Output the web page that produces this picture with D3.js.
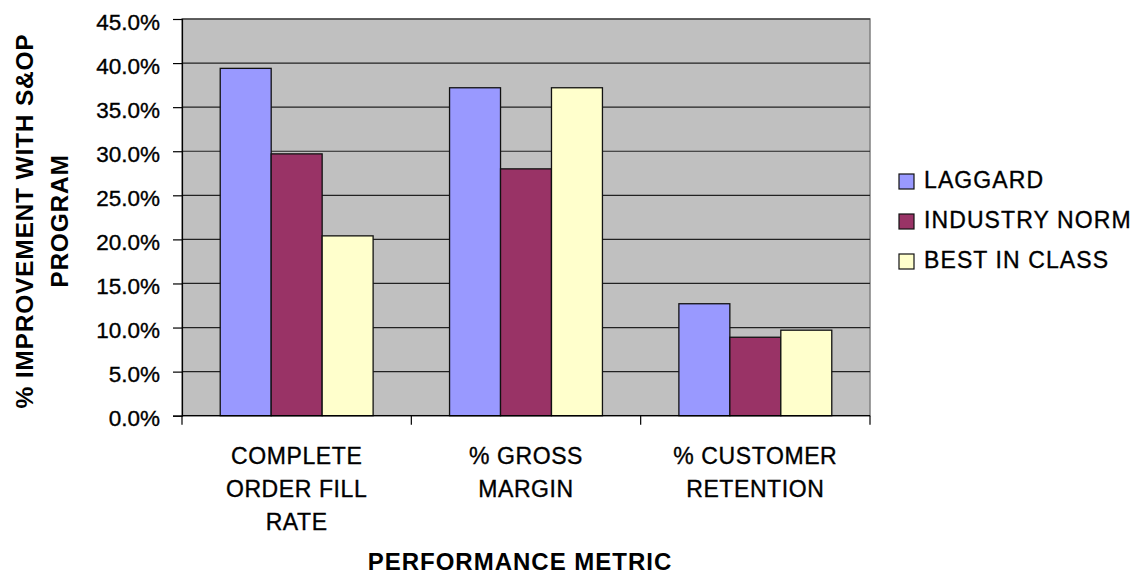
<!DOCTYPE html>
<html>
<head>
<meta charset="utf-8">
<script src="https://cdn.jsdelivr.net/npm/d3@7"></script>
<style>
  body { margin: 0; background: #fff; }
  text { font-family: "Liberation Sans", Arial, sans-serif; fill: #000; }
  .heavy { stroke: #000; stroke-width: 0.35px; }
</style>
</head>
<body>
<div id="graph"></div>
<script>
var categories = [["COMPLETE", "ORDER FILL", "RATE"], ["% GROSS", "MARGIN"], ["% CUSTOMER", "RETENTION"]];
var series = ["LAGGARD", "INDUSTRY NORM", "BEST IN CLASS"];
var laggard = [0.394, 0.372, 0.127];
var industryNorm = [0.297, 0.280, 0.089];
var bestInClass = [0.204, 0.372, 0.097];
var yTicks = [0, 0.05, 0.10, 0.15, 0.20, 0.25, 0.30, 0.35, 0.40, 0.45];
var colors = ["#9999FF", "#993366", "#FFFFCC"];

var values = [laggard, industryNorm, bestInClass];

var margin = {top: 19, left: 182},
    width = 870 - 182,
    height = 415.7 - 19;

var svg = d3.select("#graph").append("svg")
    .attr("width", 1147)
    .attr("height", 582)
  .append("g")
    .attr("transform", "translate(" + margin.left + "," + margin.top + ")");

var x0 = d3.scaleBand()
    .domain(d3.range(categories.length))
    .range([0, width]);
var barW = x0.bandwidth() / 4.5;
var y = d3.scaleLinear()
    .domain([0, 0.45])
    .range([height, 0]);

// plot background
svg.append("rect")
    .attr("width", width)
    .attr("height", height)
    .style("fill", "#C0C0C0")
    .style("stroke", "#808080")
    .style("stroke-width", 1.5);

// grid
svg.selectAll(".grid")
    .data(yTicks.slice(1))
    .enter().append("line")
      .attr("x1", 0)
      .attr("x2", width)
      .attr("y1", function(d) { return y(d); })
      .attr("y2", function(d) { return y(d); })
      .style("stroke", "#222")
      .style("stroke-width", 1.2);

// bars
series.forEach(function(s, si) {
  svg.selectAll(".bar" + si)
      .data(values[si])
      .enter().append("rect")
        .attr("x", function(d, i) { return x0(i) + barW * 0.75 + si * barW; })
        .attr("y", function(d) { return y(d); })
        .attr("width", barW)
        .attr("height", function(d) { return height - y(d); })
        .style("fill", colors[si])
        .style("stroke", "#111")
        .style("stroke-width", 1.3);
});

// y axis
var yAxis = d3.axisLeft(y)
    .tickValues(yTicks)
    .tickSize(9)
    .tickPadding(13)
    .tickFormat(d3.format(".1%"));
var ya = svg.append("g").call(yAxis);
ya.select(".domain").style("stroke", "#000").style("stroke-width", 1.2);
ya.selectAll(".tick line").style("stroke", "#000").style("stroke-width", 1.2);
ya.selectAll(".tick text")
    .attr("class", "heavy")
    .attr("dy", "0.45em")
    .style("font-size", "22.5px")
    .style("font-family", "Liberation Sans, Arial, sans-serif");

// x axis
var xa = svg.append("g").attr("transform", "translate(0," + height + ")");
xa.append("line")
    .attr("x1", 0).attr("x2", width)
    .style("stroke", "#000").style("stroke-width", 1.2);
xa.selectAll(".xt")
    .data(d3.range(categories.length + 1))
    .enter().append("line")
      .attr("x1", function(d) { return d * x0.step(); })
      .attr("x2", function(d) { return d * x0.step(); })
      .attr("y1", 0).attr("y2", 9)
      .style("stroke", "#000").style("stroke-width", 1.2);
xa.selectAll(".xl")
    .data(categories)
    .enter().append("text")
      .attr("class", "heavy")
      .attr("x", function(d, i) { return x0(i) + x0.bandwidth() / 2; })
      .attr("y", 464 - 415.7)
      .style("text-anchor", "middle")
      .style("font-size", "23px")
      .style("letter-spacing", "0.6px")
      .each(function(d) {
        var t = d3.select(this);
        d.forEach(function(line, k) {
          t.append("tspan")
              .attr("x", t.attr("x"))
              .attr("dy", k === 0 ? 0 : 33)
              .text(line);
        });
      });

// axis titles
svg.append("text")
    .attr("x", 520 - margin.left)
    .attr("y", 570 - margin.top)
    .style("text-anchor", "middle")
    .style("font-size", "24px")
    .style("font-weight", "bold")
    .style("letter-spacing", "1px")
    .text("PERFORMANCE METRIC");

var yt = svg.append("text")
    .attr("transform", "translate(" + (33 - margin.left) + "," + (221 - margin.top) + ") rotate(-90)")
    .style("text-anchor", "middle")
    .style("font-size", "24.5px")
    .style("font-weight", "bold")
    .style("letter-spacing", "0.8px");
yt.append("tspan").attr("x", 0).attr("dy", 0).text("% IMPROVEMENT WITH S&OP");
yt.append("tspan").attr("x", 0).attr("dy", 35).text("PROGRAM");

// legend
var legend = d3.select("svg").append("g")
    .attr("transform", "translate(899,180)");
series.forEach(function(s, i) {
  var g = legend.append("g").attr("transform", "translate(0," + i * 40 + ")");
  g.append("rect")
      .attr("x", 0).attr("y", -6)
      .attr("width", 15).attr("height", 15)
      .style("fill", colors[i])
      .style("stroke", "#111")
      .style("stroke-width", 1.2);
  g.append("text")
      .attr("class", "heavy")
      .attr("x", 25).attr("y", 7.5)
      .style("font-size", "23px")
      .style("letter-spacing", "1.1px")
      .text(s);
});
</script>
</body>
</html>
